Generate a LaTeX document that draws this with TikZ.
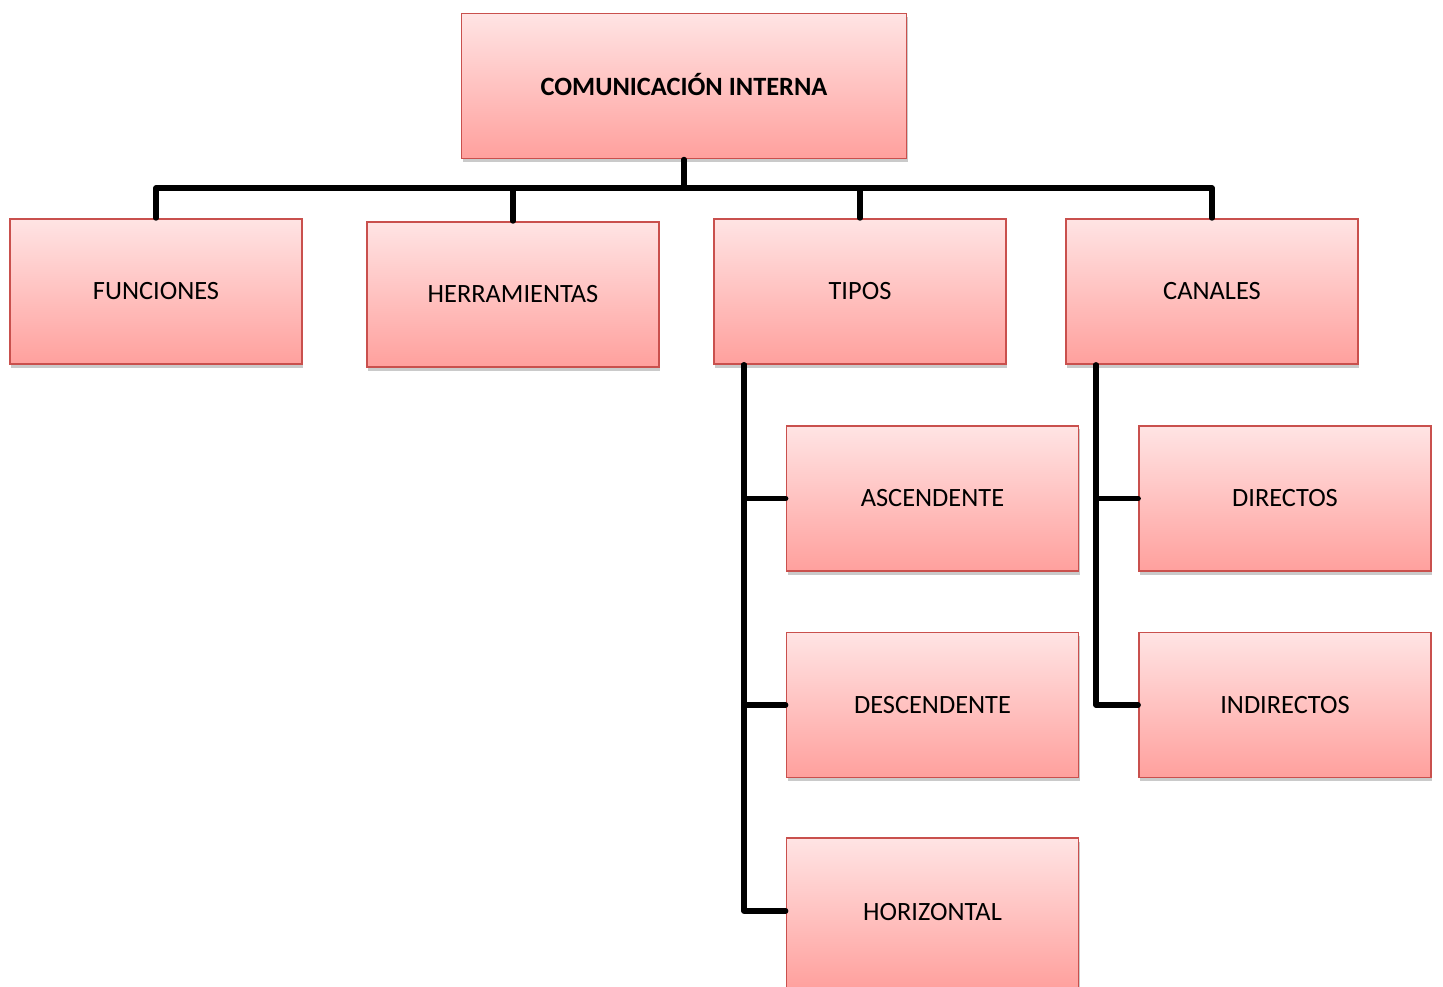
\documentclass[tikz,border=0pt]{standalone}
\usepackage{fontspec}
\setmainfont{Carlito}
\usetikzlibrary{shadows}
\definecolor{cajaborde}{HTML}{C9504D}
\definecolor{cajaarriba}{HTML}{FFE4E4}
\definecolor{cajaabajo}{HTML}{FFA09D}

\begin{document}
\begin{tikzpicture}[x=0.75pt,y=-0.75pt,
    caja/.style={draw=cajaborde, line width=1.2pt, top color=cajaarriba, bottom color=cajaabajo,
      minimum width=219pt, minimum height=109pt, inner sep=0pt, font=\fontsize{19.8}{22}\selectfont,
      drop shadow={shadow xshift=1pt, shadow yshift=-2.5pt, opacity=0.35, fill=black!60}},
    rama/.style={line width=4pt, line cap=round, line join=round}]
    \useasboundingbox (0,0) rectangle (1443,986);

    % Caja principal
    \node[caja, minimum width=334pt, font=\fontsize{19.8}{22}\selectfont\bfseries] (comunicacion) at (684,86) {\raisebox{2pt}{COMUNICACIÓN INTERNA}};

    % Primer nivel
    \node[caja] (funciones) at (156,291.5) {FUNCIONES};
    \node[caja] (herramientas) at (513,294.5) {HERRAMIENTAS};
    \node[caja] (tipos) at (860,291.5) {TIPOS};
    \node[caja] (canales) at (1212,291.5) {CANALES};

    % Tipos
    \node[caja] (ascendente) at (932.5,498.5) {ASCENDENTE};
    \node[caja] (descendente) at (932.5,705) {DESCENDENTE};
    \node[caja, minimum height=113pt] (horizontal) at (932.5,913.5) {\raisebox{2pt}{HORIZONTAL}};

    % Canales
    \node[caja] (directos) at (1285,498.5) {DIRECTOS};
    \node[caja] (indirectos) at (1285,705) {INDIRECTOS};

    % Conectores
    \coordinate (bus) at (684,188);
    \draw[rama] (comunicacion.south) -- (bus);
    \draw[rama] (funciones.north) |- (bus) -| (canales.north);
    \draw[rama] (herramientas.north) |- (bus);
    \draw[rama] (tipos.north) |- (bus);

    \draw[rama] ([xshift=-87pt]tipos.south) |- ([yshift=2pt]horizontal.west);
    \draw[rama] ([xshift=-87pt]tipos.south) |- (ascendente.west);
    \draw[rama] ([xshift=-87pt]tipos.south) |- (descendente.west);

    \draw[rama] ([xshift=-87pt]canales.south) |- (indirectos.west);
    \draw[rama] ([xshift=-87pt]canales.south) |- (directos.west);
\end{tikzpicture}
\end{document}
